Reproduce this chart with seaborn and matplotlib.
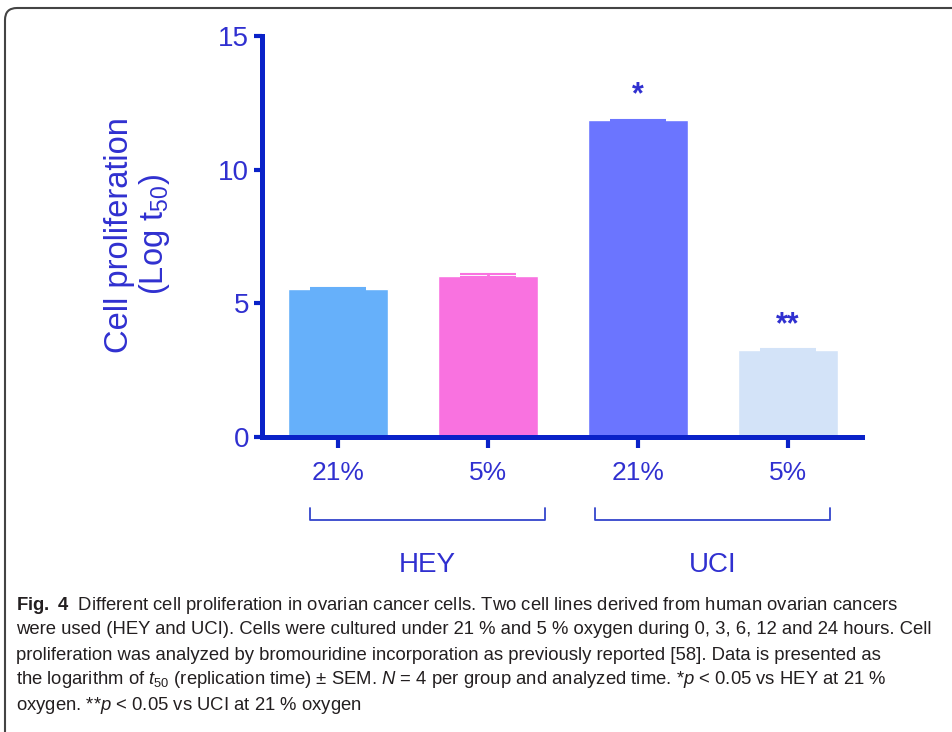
# -*- coding: utf-8 -*-
"""
Fig. 4: cell proliferation (log t50) in HEY and UCI ovarian cancer cells.
"""
import matplotlib
matplotlib.use("Agg")
import matplotlib.pyplot as plt
from matplotlib.patches import FancyBboxPatch
from matplotlib.transforms import IdentityTransform
import seaborn as sns
import pandas as pd

# data
cell_lines = ["HEY", "HEY", "UCI", "UCI"]
oxygen = ["21%", "5%", "21%", "5%"]
log_t50 = [5.55, 6.03, 11.85, 3.25]
sem = [0.04, 0.05, 0.02, 0.03]
stars = ["", "", "*", "**"]
bar_colors = ["#66B0FA", "#F972E0", "#6B75FF", "#D3E3F8"]

AXIS_BLUE = "#0A22C8"
TEXT_BLUE = "#3030D0"
SANS = ["Liberation Sans", "DejaVu Sans"]

sns.set_theme(style="white")
plt.rcParams.update({
    "font.family": SANS,
    "mathtext.fontset": "custom",
    "mathtext.rm": "Liberation Sans",
    "mathtext.it": "Liberation Sans:italic",
    "mathtext.bf": "Liberation Sans:bold",
})

df = pd.DataFrame({
    "group": [f"{c} {o}" for c, o in zip(cell_lines, oxygen)],
    "value": log_t50,
})

fig = plt.figure(figsize=(9.52, 7.32), dpi=100)
ax = fig.add_axes([0.275, 0.403, 0.630, 0.548])

sns.barplot(data=df, x="group", y="value", hue="group", palette=bar_colors,
            width=0.667, errorbar=None, legend=False, ax=ax, saturation=1)
for i, (m, s) in enumerate(zip(log_t50, sem)):
    ax.errorbar(i, m, yerr=s, fmt="none", ecolor=bar_colors[i],
                elinewidth=2, capsize=20, capthick=1.5)
    if stars[i]:
        ax.text(i, m + 0.35, stars[i], ha="center", va="bottom",
                color=TEXT_BLUE, fontsize=22, fontweight="bold")

ax.set_xlim(-0.507, 3.49)
ax.set_ylim(0, 15)
ax.set_yticks([0, 5, 10, 15])
ax.set_xticks(range(4))
ax.set_xticklabels(oxygen)
ax.set_xlabel("")
ax.set_ylabel("")
sns.despine(ax=ax)
for side in ["left", "bottom"]:
    ax.spines[side].set_linewidth(3.6)
    ax.spines[side].set_color(AXIS_BLUE)
ax.tick_params(axis="y", length=6, width=3, color=AXIS_BLUE, pad=3,
               labelsize=20, labelcolor=TEXT_BLUE, left=True)
ax.tick_params(axis="x", length=8, width=3, color=AXIS_BLUE, pad=9,
               labelsize=19, labelcolor=TEXT_BLUE, bottom=True)

# group brackets and cell line names
for lo, hi, name in [(-0.187, 1.38, "HEY"), (1.713, 3.28, "UCI")]:
    ax.plot([lo, lo, hi, hi], [-2.65, -3.1, -3.1, -2.65], color="#3344CC",
            lw=1.3, clip_on=False)
    ax.text((lo + hi) / 2, -4.8, name, ha="center", va="center",
            color=TEXT_BLUE, fontsize=20)

fig.text(0.145, 0.679, "Cell proliferation\n(Log t$_{\\mathregular{50}}$)",
         rotation=90, ha="center", va="center", multialignment="center",
         color=TEXT_BLUE, fontsize=23.5, linespacing=1.05)

# caption
caption = [
    r"$\mathbf{Fig.\ 4}$  Different cell proliferation in ovarian cancer cells. Two cell lines derived from human ovarian cancers",
    "were used (HEY and UCI). Cells were cultured under 21 % and 5 % oxygen during 0, 3, 6, 12 and 24 hours. Cell",
    "proliferation was analyzed by bromouridine incorporation as previously reported [58]. Data is presented as",
    r"the logarithm of $t_{50}$ (replication time) $\pm$ SEM. $N$ = 4 per group and analyzed time. *$p$ < 0.05 vs HEY at 21 %",
    r"oxygen. **$p$ < 0.05 vs UCI at 21 % oxygen",
]
for k, line in enumerate(caption):
    fig.text(16 / 952, 1 - (605 + 25 * k) / 732, line, ha="left", va="center",
             fontsize=13.3, color="#231F20")

# rounded frame around the figure
frame = FancyBboxPatch((5, -60), 1000, 732 - 8 + 60,
                       boxstyle="round,pad=0,rounding_size=12",
                       transform=IdentityTransform(), fill=False,
                       edgecolor="#444444", lw=1.5)
fig.add_artist(frame)

fig.savefig("out.png", dpi=100)
